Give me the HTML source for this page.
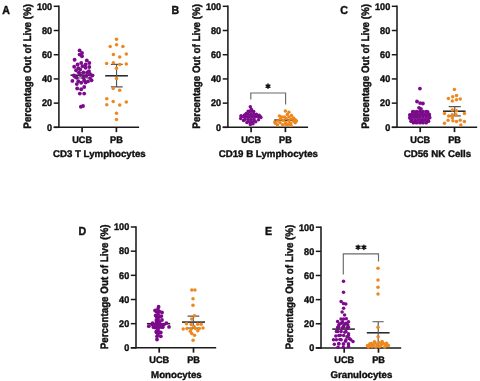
<!DOCTYPE html>
<html><head><meta charset="utf-8"><style>
html,body{margin:0;padding:0;background:#fff;width:480px;height:381px;overflow:hidden}
svg{display:block;will-change:transform}
text{text-rendering:geometricPrecision;font-family:"Liberation Sans", sans-serif;fill:#111;stroke:#111;stroke-width:0.4px}
</style></head><body>
<svg width="480" height="381" viewBox="0 0 480 381">
<text transform="translate(2.20,13.50) scale(1,1.1)" font-size="10.6" font-weight="bold">A</text>
<text transform="translate(31.10,66.33) rotate(-90) scale(1,1.1)" text-anchor="middle" font-size="9.8" font-weight="bold">Percentage Out of Live (%)</text>
<line x1="53.70" y1="127.35" x2="58.90" y2="127.35" stroke="#1a1a1a" stroke-width="1.5"/>
<text transform="translate(52.10,130.65) scale(1,1.05)" text-anchor="end" font-size="9.1" font-weight="bold">0</text>
<line x1="53.70" y1="103.14" x2="58.90" y2="103.14" stroke="#1a1a1a" stroke-width="1.5"/>
<text transform="translate(52.10,106.44) scale(1,1.05)" text-anchor="end" font-size="9.1" font-weight="bold">20</text>
<line x1="53.70" y1="78.93" x2="58.90" y2="78.93" stroke="#1a1a1a" stroke-width="1.5"/>
<text transform="translate(52.10,82.23) scale(1,1.05)" text-anchor="end" font-size="9.1" font-weight="bold">40</text>
<line x1="53.70" y1="54.72" x2="58.90" y2="54.72" stroke="#1a1a1a" stroke-width="1.5"/>
<text transform="translate(52.10,58.02) scale(1,1.05)" text-anchor="end" font-size="9.1" font-weight="bold">60</text>
<line x1="53.70" y1="30.51" x2="58.90" y2="30.51" stroke="#1a1a1a" stroke-width="1.5"/>
<text transform="translate(52.10,33.81) scale(1,1.05)" text-anchor="end" font-size="9.1" font-weight="bold">80</text>
<line x1="53.70" y1="6.30" x2="58.90" y2="6.30" stroke="#1a1a1a" stroke-width="1.5"/>
<text transform="translate(52.10,9.60) scale(1,1.05)" text-anchor="end" font-size="9.1" font-weight="bold">100</text>
<line x1="58.90" y1="5.55" x2="58.90" y2="128.10" stroke="#1a1a1a" stroke-width="1.55"/>
<line x1="53.70" y1="127.35" x2="139.10" y2="127.35" stroke="#1a1a1a" stroke-width="1.5"/>
<line x1="82.10" y1="127.35" x2="82.10" y2="132.15" stroke="#1a1a1a" stroke-width="1.7"/>
<text transform="translate(82.10,142.85) scale(1,1.02)" text-anchor="middle" font-size="9.2" font-weight="bold">UCB</text>
<line x1="116.40" y1="127.35" x2="116.40" y2="132.15" stroke="#1a1a1a" stroke-width="1.7"/>
<text transform="translate(116.40,142.85) scale(1,1.02)" text-anchor="middle" font-size="9.2" font-weight="bold">PB</text>
<text transform="translate(99.30,157.35) scale(1,1.0)" text-anchor="middle" font-size="9.7" font-weight="bold">CD3 T Lymphocytes</text>
<line x1="70.50" y1="75.20" x2="94.30" y2="75.20" stroke="#222" stroke-width="1.5"/>
<line x1="105.20" y1="75.80" x2="127.90" y2="75.80" stroke="#222" stroke-width="1.5"/>
<path d="M76.60 72.60H88.20M82.40 72.60V78.00M76.60 78.00H88.20" stroke="#555" stroke-width="1.15" fill="none"/>
<path d="M110.90 64.40H122.70M116.55 64.40V86.90M110.90 86.90H122.70" stroke="#555" stroke-width="1.15" fill="none"/>
<circle cx="79.6" cy="50.4" r="1.95" fill="#7b0b8b"/>
<circle cx="82.0" cy="53.0" r="1.95" fill="#7b0b8b"/>
<circle cx="79.6" cy="54.6" r="1.95" fill="#7b0b8b"/>
<circle cx="82.0" cy="56.3" r="1.95" fill="#7b0b8b"/>
<circle cx="74.6" cy="59.7" r="1.95" fill="#7b0b8b"/>
<circle cx="86.8" cy="60.4" r="1.95" fill="#7b0b8b"/>
<circle cx="89.3" cy="63.0" r="1.95" fill="#7b0b8b"/>
<circle cx="81.2" cy="63.0" r="1.95" fill="#7b0b8b"/>
<circle cx="77.6" cy="64.5" r="1.95" fill="#7b0b8b"/>
<circle cx="85.6" cy="64.5" r="1.95" fill="#7b0b8b"/>
<circle cx="74.2" cy="66.7" r="1.95" fill="#7b0b8b"/>
<circle cx="89.3" cy="67.0" r="1.95" fill="#7b0b8b"/>
<circle cx="78.3" cy="68.1" r="1.95" fill="#7b0b8b"/>
<circle cx="85.6" cy="67.8" r="1.95" fill="#7b0b8b"/>
<circle cx="76.1" cy="70.3" r="1.95" fill="#7b0b8b"/>
<circle cx="89.0" cy="71.1" r="1.95" fill="#7b0b8b"/>
<circle cx="83.4" cy="72.5" r="1.95" fill="#7b0b8b"/>
<circle cx="90.0" cy="74.0" r="1.95" fill="#7b0b8b"/>
<circle cx="92.3" cy="75.5" r="1.95" fill="#7b0b8b"/>
<circle cx="73.9" cy="75.5" r="1.95" fill="#7b0b8b"/>
<circle cx="80.5" cy="75.1" r="1.95" fill="#7b0b8b"/>
<circle cx="86.4" cy="75.9" r="1.95" fill="#7b0b8b"/>
<circle cx="76.8" cy="77.7" r="1.95" fill="#7b0b8b"/>
<circle cx="83.4" cy="77.7" r="1.95" fill="#7b0b8b"/>
<circle cx="90.0" cy="78.1" r="1.95" fill="#7b0b8b"/>
<circle cx="72.4" cy="80.9" r="1.95" fill="#7b0b8b"/>
<circle cx="78.3" cy="81.2" r="1.95" fill="#7b0b8b"/>
<circle cx="84.2" cy="80.5" r="1.95" fill="#7b0b8b"/>
<circle cx="91.5" cy="80.2" r="1.95" fill="#7b0b8b"/>
<circle cx="87.9" cy="81.4" r="1.95" fill="#7b0b8b"/>
<circle cx="81.2" cy="82.7" r="1.95" fill="#7b0b8b"/>
<circle cx="75.0" cy="76.7" r="1.95" fill="#7b0b8b"/>
<circle cx="76.8" cy="84.1" r="1.95" fill="#7b0b8b"/>
<circle cx="85.6" cy="82.6" r="1.95" fill="#7b0b8b"/>
<circle cx="77.2" cy="88.5" r="1.95" fill="#7b0b8b"/>
<circle cx="81.2" cy="89.2" r="1.95" fill="#7b0b8b"/>
<circle cx="84.2" cy="87.0" r="1.95" fill="#7b0b8b"/>
<circle cx="79.8" cy="93.6" r="1.95" fill="#7b0b8b"/>
<circle cx="84.2" cy="93.6" r="1.95" fill="#7b0b8b"/>
<circle cx="80.9" cy="106.8" r="1.95" fill="#7b0b8b"/>
<circle cx="83.0" cy="106.0" r="1.95" fill="#7b0b8b"/>
<circle cx="80.2" cy="69.5" r="1.95" fill="#7b0b8b"/>
<circle cx="82.5" cy="66.2" r="1.95" fill="#7b0b8b"/>
<circle cx="87.2" cy="72.5" r="1.95" fill="#7b0b8b"/>
<circle cx="79.0" cy="72.8" r="1.95" fill="#7b0b8b"/>
<circle cx="116.5" cy="39.3" r="1.75" fill="#ec881f"/>
<circle cx="116.5" cy="44.7" r="1.75" fill="#ec881f"/>
<circle cx="110.2" cy="46.6" r="1.75" fill="#ec881f"/>
<circle cx="122.9" cy="46.6" r="1.75" fill="#ec881f"/>
<circle cx="113.4" cy="54.4" r="1.75" fill="#ec881f"/>
<circle cx="126.3" cy="54.1" r="1.75" fill="#ec881f"/>
<circle cx="119.7" cy="57.0" r="1.75" fill="#ec881f"/>
<circle cx="106.6" cy="63.4" r="1.75" fill="#ec881f"/>
<circle cx="113.4" cy="62.7" r="1.75" fill="#ec881f"/>
<circle cx="119.8" cy="64.4" r="1.75" fill="#ec881f"/>
<circle cx="126.3" cy="63.9" r="1.75" fill="#ec881f"/>
<circle cx="116.5" cy="68.3" r="1.75" fill="#ec881f"/>
<circle cx="116.5" cy="78.6" r="1.75" fill="#ec881f"/>
<circle cx="113.2" cy="88.6" r="1.75" fill="#ec881f"/>
<circle cx="119.7" cy="90.3" r="1.75" fill="#ec881f"/>
<circle cx="106.8" cy="98.8" r="1.75" fill="#ec881f"/>
<circle cx="106.8" cy="104.8" r="1.75" fill="#ec881f"/>
<circle cx="113.2" cy="101.5" r="1.75" fill="#ec881f"/>
<circle cx="119.7" cy="105.0" r="1.75" fill="#ec881f"/>
<circle cx="126.3" cy="101.9" r="1.75" fill="#ec881f"/>
<circle cx="116.5" cy="113.3" r="1.75" fill="#ec881f"/>
<circle cx="116.5" cy="119.6" r="1.75" fill="#ec881f"/>
<text transform="translate(171.55,13.90) scale(1,1.1)" font-size="10.6" font-weight="bold">B</text>
<text transform="translate(200.10,66.33) rotate(-90) scale(1,1.1)" text-anchor="middle" font-size="9.8" font-weight="bold">Percentage Out of Live (%)</text>
<line x1="222.70" y1="127.35" x2="227.90" y2="127.35" stroke="#1a1a1a" stroke-width="1.5"/>
<text transform="translate(221.10,130.65) scale(1,1.05)" text-anchor="end" font-size="9.1" font-weight="bold">0</text>
<line x1="222.70" y1="103.14" x2="227.90" y2="103.14" stroke="#1a1a1a" stroke-width="1.5"/>
<text transform="translate(221.10,106.44) scale(1,1.05)" text-anchor="end" font-size="9.1" font-weight="bold">20</text>
<line x1="222.70" y1="78.93" x2="227.90" y2="78.93" stroke="#1a1a1a" stroke-width="1.5"/>
<text transform="translate(221.10,82.23) scale(1,1.05)" text-anchor="end" font-size="9.1" font-weight="bold">40</text>
<line x1="222.70" y1="54.72" x2="227.90" y2="54.72" stroke="#1a1a1a" stroke-width="1.5"/>
<text transform="translate(221.10,58.02) scale(1,1.05)" text-anchor="end" font-size="9.1" font-weight="bold">60</text>
<line x1="222.70" y1="30.51" x2="227.90" y2="30.51" stroke="#1a1a1a" stroke-width="1.5"/>
<text transform="translate(221.10,33.81) scale(1,1.05)" text-anchor="end" font-size="9.1" font-weight="bold">80</text>
<line x1="222.70" y1="6.30" x2="227.90" y2="6.30" stroke="#1a1a1a" stroke-width="1.5"/>
<text transform="translate(221.10,9.60) scale(1,1.05)" text-anchor="end" font-size="9.1" font-weight="bold">100</text>
<line x1="227.90" y1="5.55" x2="227.90" y2="128.10" stroke="#1a1a1a" stroke-width="1.55"/>
<line x1="222.70" y1="127.35" x2="308.10" y2="127.35" stroke="#1a1a1a" stroke-width="1.5"/>
<line x1="251.10" y1="127.35" x2="251.10" y2="132.15" stroke="#1a1a1a" stroke-width="1.7"/>
<text transform="translate(251.10,142.85) scale(1,1.02)" text-anchor="middle" font-size="9.2" font-weight="bold">UCB</text>
<line x1="285.40" y1="127.35" x2="285.40" y2="132.15" stroke="#1a1a1a" stroke-width="1.7"/>
<text transform="translate(285.40,142.85) scale(1,1.02)" text-anchor="middle" font-size="9.2" font-weight="bold">PB</text>
<text transform="translate(268.30,157.35) scale(1,1.0)" text-anchor="middle" font-size="9.7" font-weight="bold">CD19 B Lymphocytes</text>
<line x1="239.50" y1="116.30" x2="262.00" y2="116.30" stroke="#222" stroke-width="1.5"/>
<line x1="274.30" y1="120.10" x2="297.00" y2="120.10" stroke="#222" stroke-width="1.5"/>
<path d="M250.80 99.50V93.00H285.60V104.50" stroke="#6a6a6a" stroke-width="1.15" fill="none"/>
<path d="M268.00 88.35L268.00 84.05M266.14 87.28L269.86 85.12M266.14 85.12L269.86 87.28" stroke="#111" stroke-width="1.5" stroke-linecap="round" fill="none"/>
<circle cx="250.3" cy="106.8" r="1.75" fill="#7b0b8b"/>
<circle cx="251.3" cy="109.2" r="1.75" fill="#7b0b8b"/>
<circle cx="248.2" cy="111.2" r="1.75" fill="#7b0b8b"/>
<circle cx="253.7" cy="111.6" r="1.75" fill="#7b0b8b"/>
<circle cx="246.2" cy="113.6" r="1.75" fill="#7b0b8b"/>
<circle cx="256.4" cy="114.3" r="1.75" fill="#7b0b8b"/>
<circle cx="241.1" cy="115.7" r="1.75" fill="#7b0b8b"/>
<circle cx="244.5" cy="115.0" r="1.75" fill="#7b0b8b"/>
<circle cx="259.2" cy="115.3" r="1.75" fill="#7b0b8b"/>
<circle cx="260.9" cy="117.4" r="1.75" fill="#7b0b8b"/>
<circle cx="240.7" cy="118.4" r="1.75" fill="#7b0b8b"/>
<circle cx="243.5" cy="120.4" r="1.75" fill="#7b0b8b"/>
<circle cx="258.5" cy="119.7" r="1.75" fill="#7b0b8b"/>
<circle cx="246.9" cy="122.5" r="1.75" fill="#7b0b8b"/>
<circle cx="255.7" cy="121.8" r="1.75" fill="#7b0b8b"/>
<circle cx="250.3" cy="124.5" r="1.75" fill="#7b0b8b"/>
<circle cx="253.0" cy="123.8" r="1.75" fill="#7b0b8b"/>
<circle cx="249.5" cy="111.6" r="1.75" fill="#7b0b8b"/>
<circle cx="252.5" cy="111.6" r="1.75" fill="#7b0b8b"/>
<circle cx="248.0" cy="114.2" r="1.75" fill="#7b0b8b"/>
<circle cx="251.0" cy="114.2" r="1.75" fill="#7b0b8b"/>
<circle cx="254.0" cy="114.2" r="1.75" fill="#7b0b8b"/>
<circle cx="243.5" cy="116.8" r="1.75" fill="#7b0b8b"/>
<circle cx="246.5" cy="116.8" r="1.75" fill="#7b0b8b"/>
<circle cx="249.5" cy="116.8" r="1.75" fill="#7b0b8b"/>
<circle cx="252.5" cy="116.8" r="1.75" fill="#7b0b8b"/>
<circle cx="255.5" cy="116.8" r="1.75" fill="#7b0b8b"/>
<circle cx="258.5" cy="116.8" r="1.75" fill="#7b0b8b"/>
<circle cx="245.0" cy="119.4" r="1.75" fill="#7b0b8b"/>
<circle cx="248.0" cy="119.4" r="1.75" fill="#7b0b8b"/>
<circle cx="251.0" cy="119.4" r="1.75" fill="#7b0b8b"/>
<circle cx="254.0" cy="119.4" r="1.75" fill="#7b0b8b"/>
<circle cx="249.5" cy="122.0" r="1.75" fill="#7b0b8b"/>
<circle cx="252.5" cy="122.0" r="1.75" fill="#7b0b8b"/>
<circle cx="285.4" cy="111.0" r="1.75" fill="#ec881f"/>
<circle cx="288.9" cy="112.2" r="1.75" fill="#ec881f"/>
<circle cx="287.3" cy="114.6" r="1.75" fill="#ec881f"/>
<circle cx="279.4" cy="116.1" r="1.75" fill="#ec881f"/>
<circle cx="281.8" cy="116.9" r="1.75" fill="#ec881f"/>
<circle cx="288.9" cy="116.9" r="1.75" fill="#ec881f"/>
<circle cx="293.6" cy="118.1" r="1.75" fill="#ec881f"/>
<circle cx="295.2" cy="119.7" r="1.75" fill="#ec881f"/>
<circle cx="277.9" cy="120.9" r="1.75" fill="#ec881f"/>
<circle cx="283.4" cy="120.5" r="1.75" fill="#ec881f"/>
<circle cx="288.9" cy="120.9" r="1.75" fill="#ec881f"/>
<circle cx="293.6" cy="121.3" r="1.75" fill="#ec881f"/>
<circle cx="275.5" cy="123.2" r="1.75" fill="#ec881f"/>
<circle cx="280.2" cy="122.8" r="1.75" fill="#ec881f"/>
<circle cx="285.7" cy="122.8" r="1.75" fill="#ec881f"/>
<circle cx="290.5" cy="123.2" r="1.75" fill="#ec881f"/>
<circle cx="295.2" cy="122.8" r="1.75" fill="#ec881f"/>
<circle cx="282.6" cy="124.8" r="1.75" fill="#ec881f"/>
<circle cx="285.7" cy="124.4" r="1.75" fill="#ec881f"/>
<circle cx="286.0" cy="118.5" r="1.75" fill="#ec881f"/>
<circle cx="291.0" cy="119.0" r="1.75" fill="#ec881f"/>
<circle cx="277.5" cy="125.0" r="1.75" fill="#ec881f"/>
<circle cx="291.0" cy="125.5" r="1.75" fill="#ec881f"/>
<circle cx="280.5" cy="119.0" r="1.75" fill="#ec881f"/>
<circle cx="291.5" cy="115.5" r="1.75" fill="#ec881f"/>
<circle cx="284.5" cy="117.0" r="1.75" fill="#ec881f"/>
<circle cx="296.5" cy="121.0" r="1.75" fill="#ec881f"/>
<circle cx="288.0" cy="124.5" r="1.75" fill="#ec881f"/>
<circle cx="274.8" cy="122.0" r="1.75" fill="#ec881f"/>
<text transform="translate(340.20,13.50) scale(1,1.1)" font-size="10.6" font-weight="bold">C</text>
<text transform="translate(369.20,66.33) rotate(-90) scale(1,1.1)" text-anchor="middle" font-size="9.8" font-weight="bold">Percentage Out of Live (%)</text>
<line x1="391.80" y1="127.35" x2="397.00" y2="127.35" stroke="#1a1a1a" stroke-width="1.5"/>
<text transform="translate(390.20,130.65) scale(1,1.05)" text-anchor="end" font-size="9.1" font-weight="bold">0</text>
<line x1="391.80" y1="103.14" x2="397.00" y2="103.14" stroke="#1a1a1a" stroke-width="1.5"/>
<text transform="translate(390.20,106.44) scale(1,1.05)" text-anchor="end" font-size="9.1" font-weight="bold">20</text>
<line x1="391.80" y1="78.93" x2="397.00" y2="78.93" stroke="#1a1a1a" stroke-width="1.5"/>
<text transform="translate(390.20,82.23) scale(1,1.05)" text-anchor="end" font-size="9.1" font-weight="bold">40</text>
<line x1="391.80" y1="54.72" x2="397.00" y2="54.72" stroke="#1a1a1a" stroke-width="1.5"/>
<text transform="translate(390.20,58.02) scale(1,1.05)" text-anchor="end" font-size="9.1" font-weight="bold">60</text>
<line x1="391.80" y1="30.51" x2="397.00" y2="30.51" stroke="#1a1a1a" stroke-width="1.5"/>
<text transform="translate(390.20,33.81) scale(1,1.05)" text-anchor="end" font-size="9.1" font-weight="bold">80</text>
<line x1="391.80" y1="6.30" x2="397.00" y2="6.30" stroke="#1a1a1a" stroke-width="1.5"/>
<text transform="translate(390.20,9.60) scale(1,1.05)" text-anchor="end" font-size="9.1" font-weight="bold">100</text>
<line x1="397.00" y1="5.55" x2="397.00" y2="128.10" stroke="#1a1a1a" stroke-width="1.55"/>
<line x1="391.80" y1="127.35" x2="477.20" y2="127.35" stroke="#1a1a1a" stroke-width="1.5"/>
<line x1="420.20" y1="127.35" x2="420.20" y2="132.15" stroke="#1a1a1a" stroke-width="1.7"/>
<text transform="translate(420.20,142.85) scale(1,1.02)" text-anchor="middle" font-size="9.2" font-weight="bold">UCB</text>
<line x1="454.50" y1="127.35" x2="454.50" y2="132.15" stroke="#1a1a1a" stroke-width="1.7"/>
<text transform="translate(454.50,142.85) scale(1,1.02)" text-anchor="middle" font-size="9.2" font-weight="bold">PB</text>
<text transform="translate(437.40,157.35) scale(1,1.0)" text-anchor="middle" font-size="9.7" font-weight="bold">CD56 NK Cells</text>
<line x1="408.50" y1="114.80" x2="431.00" y2="114.80" stroke="#222" stroke-width="1.5"/>
<line x1="443.00" y1="111.20" x2="465.60" y2="111.20" stroke="#222" stroke-width="1.5"/>
<path d="M448.70 106.60H460.80M454.75 106.60V115.80M448.70 115.80H460.80" stroke="#555" stroke-width="1.15" fill="none"/>
<circle cx="419.9" cy="88.6" r="1.9" fill="#7b0b8b"/>
<circle cx="417.0" cy="101.5" r="1.9" fill="#7b0b8b"/>
<circle cx="420.1" cy="103.1" r="1.9" fill="#7b0b8b"/>
<circle cx="422.9" cy="103.5" r="1.9" fill="#7b0b8b"/>
<circle cx="419.0" cy="107.8" r="1.9" fill="#7b0b8b"/>
<circle cx="420.9" cy="109.0" r="1.9" fill="#7b0b8b"/>
<circle cx="412.7" cy="111.8" r="1.9" fill="#7b0b8b"/>
<circle cx="416.6" cy="113.0" r="1.9" fill="#7b0b8b"/>
<circle cx="422.1" cy="112.6" r="1.9" fill="#7b0b8b"/>
<circle cx="427.6" cy="111.8" r="1.9" fill="#7b0b8b"/>
<circle cx="409.9" cy="114.9" r="1.9" fill="#7b0b8b"/>
<circle cx="429.2" cy="114.5" r="1.9" fill="#7b0b8b"/>
<circle cx="409.9" cy="118.1" r="1.9" fill="#7b0b8b"/>
<circle cx="429.6" cy="117.7" r="1.9" fill="#7b0b8b"/>
<circle cx="411.1" cy="121.2" r="1.9" fill="#7b0b8b"/>
<circle cx="415.8" cy="122.0" r="1.9" fill="#7b0b8b"/>
<circle cx="422.1" cy="122.0" r="1.9" fill="#7b0b8b"/>
<circle cx="428.4" cy="121.2" r="1.9" fill="#7b0b8b"/>
<circle cx="413.4" cy="111.6" r="1.9" fill="#7b0b8b"/>
<circle cx="416.6" cy="111.6" r="1.9" fill="#7b0b8b"/>
<circle cx="419.8" cy="111.6" r="1.9" fill="#7b0b8b"/>
<circle cx="423.0" cy="111.6" r="1.9" fill="#7b0b8b"/>
<circle cx="426.2" cy="111.6" r="1.9" fill="#7b0b8b"/>
<circle cx="411.8" cy="114.4" r="1.9" fill="#7b0b8b"/>
<circle cx="415.0" cy="114.4" r="1.9" fill="#7b0b8b"/>
<circle cx="418.2" cy="114.4" r="1.9" fill="#7b0b8b"/>
<circle cx="421.4" cy="114.4" r="1.9" fill="#7b0b8b"/>
<circle cx="424.6" cy="114.4" r="1.9" fill="#7b0b8b"/>
<circle cx="427.8" cy="114.4" r="1.9" fill="#7b0b8b"/>
<circle cx="410.2" cy="117.1" r="1.9" fill="#7b0b8b"/>
<circle cx="413.4" cy="117.1" r="1.9" fill="#7b0b8b"/>
<circle cx="416.6" cy="117.1" r="1.9" fill="#7b0b8b"/>
<circle cx="419.8" cy="117.1" r="1.9" fill="#7b0b8b"/>
<circle cx="423.0" cy="117.1" r="1.9" fill="#7b0b8b"/>
<circle cx="426.2" cy="117.1" r="1.9" fill="#7b0b8b"/>
<circle cx="429.4" cy="117.1" r="1.9" fill="#7b0b8b"/>
<circle cx="411.8" cy="119.9" r="1.9" fill="#7b0b8b"/>
<circle cx="415.0" cy="119.9" r="1.9" fill="#7b0b8b"/>
<circle cx="418.2" cy="119.9" r="1.9" fill="#7b0b8b"/>
<circle cx="421.4" cy="119.9" r="1.9" fill="#7b0b8b"/>
<circle cx="424.6" cy="119.9" r="1.9" fill="#7b0b8b"/>
<circle cx="427.8" cy="119.9" r="1.9" fill="#7b0b8b"/>
<circle cx="413.4" cy="122.7" r="1.9" fill="#7b0b8b"/>
<circle cx="416.6" cy="122.7" r="1.9" fill="#7b0b8b"/>
<circle cx="419.8" cy="122.7" r="1.9" fill="#7b0b8b"/>
<circle cx="423.0" cy="122.7" r="1.9" fill="#7b0b8b"/>
<circle cx="426.2" cy="122.7" r="1.9" fill="#7b0b8b"/>
<circle cx="454.4" cy="89.4" r="1.75" fill="#ec881f"/>
<circle cx="452.7" cy="96.7" r="1.75" fill="#ec881f"/>
<circle cx="456.5" cy="95.5" r="1.75" fill="#ec881f"/>
<circle cx="448.4" cy="98.5" r="1.75" fill="#ec881f"/>
<circle cx="460.2" cy="99.1" r="1.75" fill="#ec881f"/>
<circle cx="456.5" cy="99.7" r="1.75" fill="#ec881f"/>
<circle cx="452.3" cy="100.9" r="1.75" fill="#ec881f"/>
<circle cx="452.3" cy="110.0" r="1.75" fill="#ec881f"/>
<circle cx="456.5" cy="110.8" r="1.75" fill="#ec881f"/>
<circle cx="444.5" cy="113.6" r="1.75" fill="#ec881f"/>
<circle cx="464.4" cy="113.6" r="1.75" fill="#ec881f"/>
<circle cx="448.7" cy="116.0" r="1.75" fill="#ec881f"/>
<circle cx="452.3" cy="114.8" r="1.75" fill="#ec881f"/>
<circle cx="455.9" cy="114.8" r="1.75" fill="#ec881f"/>
<circle cx="452.3" cy="117.8" r="1.75" fill="#ec881f"/>
<circle cx="448.1" cy="120.2" r="1.75" fill="#ec881f"/>
<circle cx="452.9" cy="120.8" r="1.75" fill="#ec881f"/>
<circle cx="456.5" cy="121.4" r="1.75" fill="#ec881f"/>
<circle cx="460.2" cy="120.2" r="1.75" fill="#ec881f"/>
<circle cx="464.4" cy="121.4" r="1.75" fill="#ec881f"/>
<circle cx="444.5" cy="123.3" r="1.75" fill="#ec881f"/>
<circle cx="460.8" cy="125.1" r="1.75" fill="#ec881f"/>
<text transform="translate(78.45,234.90) scale(1,1.1)" font-size="10.6" font-weight="bold">D</text>
<text transform="translate(108.20,286.93) rotate(-90) scale(1,1.1)" text-anchor="middle" font-size="9.8" font-weight="bold">Percentage Out of Live (%)</text>
<line x1="130.80" y1="347.85" x2="136.00" y2="347.85" stroke="#1a1a1a" stroke-width="1.5"/>
<text transform="translate(129.20,351.15) scale(1,1.05)" text-anchor="end" font-size="9.1" font-weight="bold">0</text>
<line x1="130.80" y1="323.68" x2="136.00" y2="323.68" stroke="#1a1a1a" stroke-width="1.5"/>
<text transform="translate(129.20,326.98) scale(1,1.05)" text-anchor="end" font-size="9.1" font-weight="bold">20</text>
<line x1="130.80" y1="299.51" x2="136.00" y2="299.51" stroke="#1a1a1a" stroke-width="1.5"/>
<text transform="translate(129.20,302.81) scale(1,1.05)" text-anchor="end" font-size="9.1" font-weight="bold">40</text>
<line x1="130.80" y1="275.34" x2="136.00" y2="275.34" stroke="#1a1a1a" stroke-width="1.5"/>
<text transform="translate(129.20,278.64) scale(1,1.05)" text-anchor="end" font-size="9.1" font-weight="bold">60</text>
<line x1="130.80" y1="251.17" x2="136.00" y2="251.17" stroke="#1a1a1a" stroke-width="1.5"/>
<text transform="translate(129.20,254.47) scale(1,1.05)" text-anchor="end" font-size="9.1" font-weight="bold">80</text>
<line x1="130.80" y1="227.00" x2="136.00" y2="227.00" stroke="#1a1a1a" stroke-width="1.5"/>
<text transform="translate(129.20,230.30) scale(1,1.05)" text-anchor="end" font-size="9.1" font-weight="bold">100</text>
<line x1="136.00" y1="226.25" x2="136.00" y2="348.60" stroke="#1a1a1a" stroke-width="1.55"/>
<line x1="130.80" y1="347.85" x2="216.20" y2="347.85" stroke="#1a1a1a" stroke-width="1.5"/>
<line x1="159.20" y1="347.85" x2="159.20" y2="352.65" stroke="#1a1a1a" stroke-width="1.7"/>
<text transform="translate(159.20,363.35) scale(1,1.02)" text-anchor="middle" font-size="9.2" font-weight="bold">UCB</text>
<line x1="193.50" y1="347.85" x2="193.50" y2="352.65" stroke="#1a1a1a" stroke-width="1.7"/>
<text transform="translate(193.50,363.35) scale(1,1.02)" text-anchor="middle" font-size="9.2" font-weight="bold">PB</text>
<text transform="translate(176.40,377.85) scale(1,1.0)" text-anchor="middle" font-size="9.7" font-weight="bold">Monocytes</text>
<line x1="146.90" y1="323.70" x2="170.20" y2="323.70" stroke="#222" stroke-width="1.5"/>
<line x1="182.00" y1="322.10" x2="205.00" y2="322.10" stroke="#222" stroke-width="1.5"/>
<path d="M187.50 316.10H199.30M193.30 316.10V328.10M187.50 328.10H199.30" stroke="#555" stroke-width="1.15" fill="none"/>
<circle cx="158.6" cy="306.7" r="1.9" fill="#7b0b8b"/>
<circle cx="155.1" cy="310.5" r="1.9" fill="#7b0b8b"/>
<circle cx="162.0" cy="312.4" r="1.9" fill="#7b0b8b"/>
<circle cx="155.7" cy="315.5" r="1.9" fill="#7b0b8b"/>
<circle cx="161.4" cy="316.1" r="1.9" fill="#7b0b8b"/>
<circle cx="156.4" cy="320.0" r="1.9" fill="#7b0b8b"/>
<circle cx="162.0" cy="320.0" r="1.9" fill="#7b0b8b"/>
<circle cx="152.6" cy="323.1" r="1.9" fill="#7b0b8b"/>
<circle cx="166.4" cy="323.1" r="1.9" fill="#7b0b8b"/>
<circle cx="148.8" cy="326.2" r="1.9" fill="#7b0b8b"/>
<circle cx="169.0" cy="326.9" r="1.9" fill="#7b0b8b"/>
<circle cx="155.1" cy="327.5" r="1.9" fill="#7b0b8b"/>
<circle cx="162.7" cy="326.9" r="1.9" fill="#7b0b8b"/>
<circle cx="156.4" cy="331.3" r="1.9" fill="#7b0b8b"/>
<circle cx="160.8" cy="332.5" r="1.9" fill="#7b0b8b"/>
<circle cx="157.0" cy="336.3" r="1.9" fill="#7b0b8b"/>
<circle cx="160.8" cy="336.3" r="1.9" fill="#7b0b8b"/>
<circle cx="157.0" cy="339.5" r="1.9" fill="#7b0b8b"/>
<circle cx="158.0" cy="309.0" r="1.9" fill="#7b0b8b"/>
<circle cx="156.5" cy="311.6" r="1.9" fill="#7b0b8b"/>
<circle cx="159.5" cy="311.6" r="1.9" fill="#7b0b8b"/>
<circle cx="158.0" cy="314.2" r="1.9" fill="#7b0b8b"/>
<circle cx="156.5" cy="316.8" r="1.9" fill="#7b0b8b"/>
<circle cx="159.5" cy="316.8" r="1.9" fill="#7b0b8b"/>
<circle cx="158.0" cy="319.4" r="1.9" fill="#7b0b8b"/>
<circle cx="156.5" cy="322.0" r="1.9" fill="#7b0b8b"/>
<circle cx="159.5" cy="322.0" r="1.9" fill="#7b0b8b"/>
<circle cx="152.0" cy="324.6" r="1.9" fill="#7b0b8b"/>
<circle cx="155.0" cy="324.6" r="1.9" fill="#7b0b8b"/>
<circle cx="158.0" cy="324.6" r="1.9" fill="#7b0b8b"/>
<circle cx="161.0" cy="324.6" r="1.9" fill="#7b0b8b"/>
<circle cx="164.0" cy="324.6" r="1.9" fill="#7b0b8b"/>
<circle cx="153.5" cy="327.2" r="1.9" fill="#7b0b8b"/>
<circle cx="156.5" cy="327.2" r="1.9" fill="#7b0b8b"/>
<circle cx="159.5" cy="327.2" r="1.9" fill="#7b0b8b"/>
<circle cx="162.5" cy="327.2" r="1.9" fill="#7b0b8b"/>
<circle cx="158.0" cy="329.8" r="1.9" fill="#7b0b8b"/>
<circle cx="156.5" cy="332.4" r="1.9" fill="#7b0b8b"/>
<circle cx="159.5" cy="332.4" r="1.9" fill="#7b0b8b"/>
<circle cx="158.0" cy="335.0" r="1.9" fill="#7b0b8b"/>
<circle cx="191.8" cy="289.9" r="1.75" fill="#ec881f"/>
<circle cx="194.9" cy="289.9" r="1.75" fill="#ec881f"/>
<circle cx="193.0" cy="298.8" r="1.75" fill="#ec881f"/>
<circle cx="193.0" cy="305.3" r="1.75" fill="#ec881f"/>
<circle cx="194.5" cy="315.7" r="1.75" fill="#ec881f"/>
<circle cx="191.7" cy="319.0" r="1.75" fill="#ec881f"/>
<circle cx="186.5" cy="323.7" r="1.75" fill="#ec881f"/>
<circle cx="191.2" cy="324.6" r="1.75" fill="#ec881f"/>
<circle cx="197.8" cy="324.2" r="1.75" fill="#ec881f"/>
<circle cx="201.2" cy="324.2" r="1.75" fill="#ec881f"/>
<circle cx="183.2" cy="328.9" r="1.75" fill="#ec881f"/>
<circle cx="187.0" cy="328.4" r="1.75" fill="#ec881f"/>
<circle cx="191.2" cy="328.9" r="1.75" fill="#ec881f"/>
<circle cx="195.5" cy="328.4" r="1.75" fill="#ec881f"/>
<circle cx="199.3" cy="328.4" r="1.75" fill="#ec881f"/>
<circle cx="203.0" cy="328.0" r="1.75" fill="#ec881f"/>
<circle cx="190.3" cy="331.3" r="1.75" fill="#ec881f"/>
<circle cx="197.8" cy="330.8" r="1.75" fill="#ec881f"/>
<circle cx="191.7" cy="333.6" r="1.75" fill="#ec881f"/>
<circle cx="194.5" cy="335.3" r="1.75" fill="#ec881f"/>
<circle cx="193.1" cy="340.2" r="1.75" fill="#ec881f"/>
<circle cx="194.0" cy="326.5" r="1.75" fill="#ec881f"/>
<text transform="translate(265.00,235.40) scale(1,1.1)" font-size="10.6" font-weight="bold">E</text>
<text transform="translate(293.20,287.05) rotate(-90) scale(1,1.1)" text-anchor="middle" font-size="9.8" font-weight="bold">Percentage Out of Live (%)</text>
<line x1="315.80" y1="347.90" x2="321.00" y2="347.90" stroke="#1a1a1a" stroke-width="1.5"/>
<text transform="translate(314.20,351.20) scale(1,1.05)" text-anchor="end" font-size="9.1" font-weight="bold">0</text>
<line x1="315.80" y1="323.76" x2="321.00" y2="323.76" stroke="#1a1a1a" stroke-width="1.5"/>
<text transform="translate(314.20,327.06) scale(1,1.05)" text-anchor="end" font-size="9.1" font-weight="bold">20</text>
<line x1="315.80" y1="299.62" x2="321.00" y2="299.62" stroke="#1a1a1a" stroke-width="1.5"/>
<text transform="translate(314.20,302.92) scale(1,1.05)" text-anchor="end" font-size="9.1" font-weight="bold">40</text>
<line x1="315.80" y1="275.48" x2="321.00" y2="275.48" stroke="#1a1a1a" stroke-width="1.5"/>
<text transform="translate(314.20,278.78) scale(1,1.05)" text-anchor="end" font-size="9.1" font-weight="bold">60</text>
<line x1="315.80" y1="251.34" x2="321.00" y2="251.34" stroke="#1a1a1a" stroke-width="1.5"/>
<text transform="translate(314.20,254.64) scale(1,1.05)" text-anchor="end" font-size="9.1" font-weight="bold">80</text>
<line x1="315.80" y1="227.20" x2="321.00" y2="227.20" stroke="#1a1a1a" stroke-width="1.5"/>
<text transform="translate(314.20,230.50) scale(1,1.05)" text-anchor="end" font-size="9.1" font-weight="bold">100</text>
<line x1="321.00" y1="226.45" x2="321.00" y2="348.65" stroke="#1a1a1a" stroke-width="1.55"/>
<line x1="315.80" y1="347.90" x2="401.20" y2="347.90" stroke="#1a1a1a" stroke-width="1.5"/>
<line x1="344.20" y1="347.90" x2="344.20" y2="352.70" stroke="#1a1a1a" stroke-width="1.7"/>
<text transform="translate(344.20,363.40) scale(1,1.02)" text-anchor="middle" font-size="9.2" font-weight="bold">UCB</text>
<line x1="378.50" y1="347.90" x2="378.50" y2="352.70" stroke="#1a1a1a" stroke-width="1.7"/>
<text transform="translate(378.50,363.40) scale(1,1.02)" text-anchor="middle" font-size="9.2" font-weight="bold">PB</text>
<text transform="translate(361.40,377.90) scale(1,1.0)" text-anchor="middle" font-size="9.7" font-weight="bold">Granulocytes</text>
<line x1="332.20" y1="329.10" x2="354.90" y2="329.10" stroke="#222" stroke-width="1.5"/>
<line x1="366.80" y1="332.80" x2="389.60" y2="332.80" stroke="#222" stroke-width="1.5"/>
<path d="M372.50 321.70H383.70M378.20 321.70V347.90M372.50 347.90H383.70" stroke="#555" stroke-width="1.15" fill="none"/>
<path d="M343.30 274.40V253.90H378.50V261.40" stroke="#6a6a6a" stroke-width="1.15" fill="none"/>
<path d="M358.10 249.45L358.10 245.15M356.24 248.38L359.96 246.23M356.24 246.23L359.96 248.38" stroke="#111" stroke-width="1.5" stroke-linecap="round" fill="none"/>
<path d="M363.90 249.45L363.90 245.15M362.04 248.38L365.76 246.23M362.04 246.23L365.76 248.38" stroke="#111" stroke-width="1.5" stroke-linecap="round" fill="none"/>
<circle cx="343.5" cy="281.2" r="1.75" fill="#7b0b8b"/>
<circle cx="343.5" cy="292.3" r="1.75" fill="#7b0b8b"/>
<circle cx="341.1" cy="301.5" r="1.75" fill="#7b0b8b"/>
<circle cx="343.5" cy="303.6" r="1.75" fill="#7b0b8b"/>
<circle cx="345.8" cy="303.9" r="1.75" fill="#7b0b8b"/>
<circle cx="343.6" cy="308.3" r="1.75" fill="#7b0b8b"/>
<circle cx="342.1" cy="312.0" r="1.75" fill="#7b0b8b"/>
<circle cx="344.6" cy="314.9" r="1.75" fill="#7b0b8b"/>
<circle cx="341.0" cy="319.1" r="1.75" fill="#7b0b8b"/>
<circle cx="346.3" cy="318.8" r="1.75" fill="#7b0b8b"/>
<circle cx="337.6" cy="321.4" r="1.75" fill="#7b0b8b"/>
<circle cx="342.5" cy="321.8" r="1.75" fill="#7b0b8b"/>
<circle cx="348.5" cy="321.8" r="1.75" fill="#7b0b8b"/>
<circle cx="339.5" cy="324.0" r="1.75" fill="#7b0b8b"/>
<circle cx="344.8" cy="324.0" r="1.75" fill="#7b0b8b"/>
<circle cx="338.0" cy="327.0" r="1.75" fill="#7b0b8b"/>
<circle cx="343.3" cy="326.6" r="1.75" fill="#7b0b8b"/>
<circle cx="347.8" cy="327.0" r="1.75" fill="#7b0b8b"/>
<circle cx="338.8" cy="325.1" r="1.75" fill="#7b0b8b"/>
<circle cx="344.0" cy="325.1" r="1.75" fill="#7b0b8b"/>
<circle cx="347.8" cy="324.8" r="1.75" fill="#7b0b8b"/>
<circle cx="337.6" cy="327.8" r="1.75" fill="#7b0b8b"/>
<circle cx="342.5" cy="328.1" r="1.75" fill="#7b0b8b"/>
<circle cx="347.0" cy="328.1" r="1.75" fill="#7b0b8b"/>
<circle cx="338.0" cy="331.5" r="1.75" fill="#7b0b8b"/>
<circle cx="344.8" cy="332.3" r="1.75" fill="#7b0b8b"/>
<circle cx="348.5" cy="333.8" r="1.75" fill="#7b0b8b"/>
<circle cx="335.8" cy="336.0" r="1.75" fill="#7b0b8b"/>
<circle cx="340.3" cy="335.3" r="1.75" fill="#7b0b8b"/>
<circle cx="347.0" cy="336.8" r="1.75" fill="#7b0b8b"/>
<circle cx="333.5" cy="339.8" r="1.75" fill="#7b0b8b"/>
<circle cx="339.9" cy="339.4" r="1.75" fill="#7b0b8b"/>
<circle cx="349.3" cy="338.6" r="1.75" fill="#7b0b8b"/>
<circle cx="345.5" cy="341.3" r="1.75" fill="#7b0b8b"/>
<circle cx="353.0" cy="341.6" r="1.75" fill="#7b0b8b"/>
<circle cx="334.3" cy="344.3" r="1.75" fill="#7b0b8b"/>
<circle cx="338.8" cy="343.5" r="1.75" fill="#7b0b8b"/>
<circle cx="343.3" cy="343.9" r="1.75" fill="#7b0b8b"/>
<circle cx="348.5" cy="343.9" r="1.75" fill="#7b0b8b"/>
<circle cx="338.0" cy="347.3" r="1.75" fill="#7b0b8b"/>
<circle cx="343.3" cy="347.3" r="1.75" fill="#7b0b8b"/>
<circle cx="348.5" cy="346.5" r="1.75" fill="#7b0b8b"/>
<circle cx="343.6" cy="319.0" r="1.75" fill="#7b0b8b"/>
<circle cx="341.2" cy="323.2" r="1.75" fill="#7b0b8b"/>
<circle cx="346.0" cy="323.2" r="1.75" fill="#7b0b8b"/>
<circle cx="338.8" cy="327.3" r="1.75" fill="#7b0b8b"/>
<circle cx="343.6" cy="327.3" r="1.75" fill="#7b0b8b"/>
<circle cx="348.4" cy="327.3" r="1.75" fill="#7b0b8b"/>
<circle cx="336.4" cy="331.5" r="1.75" fill="#7b0b8b"/>
<circle cx="341.2" cy="331.5" r="1.75" fill="#7b0b8b"/>
<circle cx="346.0" cy="331.5" r="1.75" fill="#7b0b8b"/>
<circle cx="338.8" cy="335.6" r="1.75" fill="#7b0b8b"/>
<circle cx="343.6" cy="335.6" r="1.75" fill="#7b0b8b"/>
<circle cx="348.4" cy="335.6" r="1.75" fill="#7b0b8b"/>
<circle cx="336.4" cy="339.8" r="1.75" fill="#7b0b8b"/>
<circle cx="341.2" cy="339.8" r="1.75" fill="#7b0b8b"/>
<circle cx="346.0" cy="339.8" r="1.75" fill="#7b0b8b"/>
<circle cx="350.8" cy="339.8" r="1.75" fill="#7b0b8b"/>
<circle cx="338.8" cy="343.9" r="1.75" fill="#7b0b8b"/>
<circle cx="343.6" cy="343.9" r="1.75" fill="#7b0b8b"/>
<circle cx="348.4" cy="343.9" r="1.75" fill="#7b0b8b"/>
<circle cx="378.0" cy="268.2" r="1.75" fill="#ec881f"/>
<circle cx="378.0" cy="280.0" r="1.75" fill="#ec881f"/>
<circle cx="378.0" cy="287.3" r="1.75" fill="#ec881f"/>
<circle cx="378.0" cy="294.1" r="1.75" fill="#ec881f"/>
<circle cx="378.0" cy="327.2" r="1.75" fill="#ec881f"/>
<circle cx="378.1" cy="336.8" r="1.75" fill="#ec881f"/>
<circle cx="382.1" cy="341.6" r="1.75" fill="#ec881f"/>
<circle cx="379.0" cy="342.5" r="1.75" fill="#ec881f"/>
<circle cx="375.2" cy="343.1" r="1.75" fill="#ec881f"/>
<circle cx="371.5" cy="343.4" r="1.75" fill="#ec881f"/>
<circle cx="383.4" cy="343.4" r="1.75" fill="#ec881f"/>
<circle cx="369.6" cy="345.0" r="1.75" fill="#ec881f"/>
<circle cx="373.4" cy="345.0" r="1.75" fill="#ec881f"/>
<circle cx="377.1" cy="345.0" r="1.75" fill="#ec881f"/>
<circle cx="380.9" cy="345.3" r="1.75" fill="#ec881f"/>
<circle cx="385.9" cy="345.3" r="1.75" fill="#ec881f"/>
<circle cx="388.4" cy="345.6" r="1.75" fill="#ec881f"/>
<circle cx="368.4" cy="346.9" r="1.75" fill="#ec881f"/>
<circle cx="372.1" cy="346.6" r="1.75" fill="#ec881f"/>
<circle cx="375.9" cy="346.9" r="1.75" fill="#ec881f"/>
<circle cx="379.6" cy="346.6" r="1.75" fill="#ec881f"/>
<circle cx="384.6" cy="346.9" r="1.75" fill="#ec881f"/>
<circle cx="374.5" cy="341.8" r="1.75" fill="#ec881f"/>
<circle cx="386.5" cy="343.2" r="1.75" fill="#ec881f"/>
<circle cx="370.0" cy="343.8" r="1.75" fill="#ec881f"/>
<circle cx="381.5" cy="344.0" r="1.75" fill="#ec881f"/>
<circle cx="367.5" cy="345.5" r="1.75" fill="#ec881f"/>
</svg>
</body></html>
